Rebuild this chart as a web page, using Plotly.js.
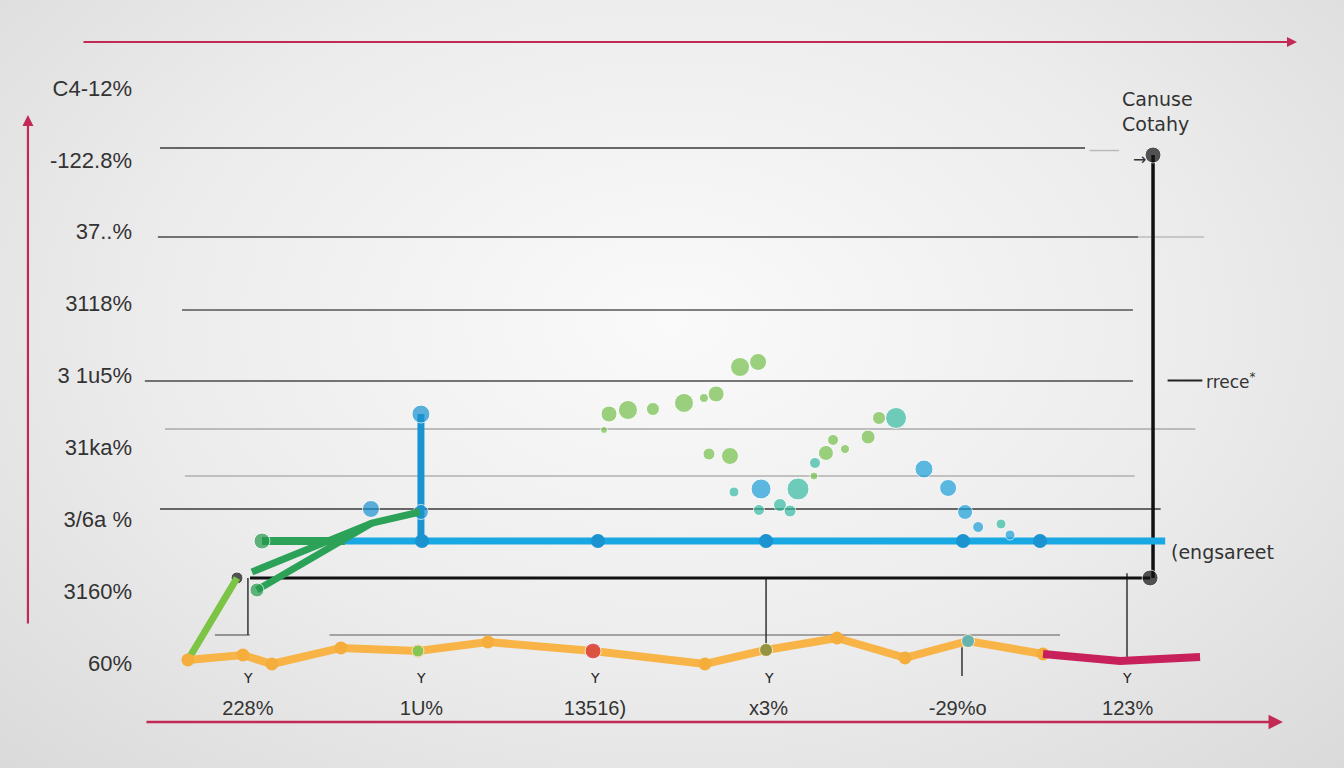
<!DOCTYPE html>
<html>
<head>
<meta charset="utf-8">
<script src="https://cdn.plot.ly/plotly-3.0.1.min.js"></script>
<style>
  html, body { margin: 0; padding: 0; }
  body {
    width: 1344px; height: 768px; overflow: hidden;
    background: radial-gradient(ellipse at 50% 42%, #fafafa 0%, #ececec 55%, #dadada 100%);
  }
  #plot { width: 1344px; height: 768px; }
</style>
</head>
<body>
<div id="plot"></div>
<script>
// tick labels
const yTickVals = [0, 1, 2, 3, 4, 5, 6, 7, 8];
const yTickText = ["60%", "3160%", "3/6a %", "31ka%", "3 1u5%", "3118%", "37..%", "-122.8%", "C4-12%"];
const xTickVals = [1, 2, 3, 4, 5.09, 6.07];
const xTickText = ["228%", "1U%", "13516)", "x3%", "-29%o", "123%"];

// orange series along the bottom, then the crimson tail
const orangeX = [0.654, 0.971, 1.138, 1.536, 1.980, 2.383, 2.989, 3.634, 3.986, 4.395, 4.787, 5.150, 5.582];
const orangeY = [0.042, 0.111, -0.014, 0.209, 0.167, 0.292, 0.167, -0.014, 0.181, 0.348, 0.070, 0.306, 0.125];
const crimsonX = [5.582, 6.026, 6.487];
const crimsonY = [0.125, 0.028, 0.083];
const accentX = [1.980, 2.989, 3.986, 5.150];
const accentY = [0.167, 0.167, 0.181, 0.306];

// light green rise
const limeX = [0.654, 0.937];
const limeY = [0.042, 1.183];

// dark green strands
const greenAX = [1.081, 1.559];
const greenAY = [1.697, 1.697];
const greenBX = [1.023, 1.715, 1.991];
const greenBY = [1.266, 1.948, 2.101];
const greenCX = [1.052, 1.715];
const greenCY = [1.016, 1.948];

// blue baseline and spike
const blueX = [1.559, 2.003, 3.017, 3.986, 5.121, 5.565, 6.286];
const blueY = [1.697, 1.697, 1.697, 1.697, 1.697, 1.697, 1.697];
const spikeX = [1.997, 1.997];
const spikeY = [1.697, 3.464];
const blueDotX = [1.997, 1.997, 1.709];
const blueDotY = [3.464, 2.101, 2.143];

// black frame line
const blackHX = [1.012, 6.199];
const blackHY = [1.183, 1.183];
const blackVX = [6.216, 6.216];
const blackVY = [1.183, 7.068];
const blackDotX = [6.216, 6.199, 0.937];
const blackDotY = [7.068, 1.183, 1.183];

// scattered bubbles
const bubbleX = [3.052, 3.081, 3.190, 3.334, 3.513, 3.628, 3.698, 3.836, 3.940, 3.657, 3.778,
                 4.262, 4.268, 4.331, 4.372, 4.441, 4.574, 4.637, 4.735,
                 3.801, 4.170, 3.945, 4.066, 4.124,
                 3.957, 4.896, 5.035, 5.133, 5.208, 5.340, 5.392];
const bubbleY = [3.242, 3.464, 3.520, 3.534, 3.618, 3.687, 3.743, 4.118, 4.188, 2.908, 2.880,
                 2.602, 2.783, 2.922, 3.103, 2.977, 3.144, 3.409, 3.409,
                 2.379, 2.421, 2.129, 2.198, 2.115,
                 2.421, 2.699, 2.435, 2.101, 1.892, 1.934, 1.781];
const bubbleSize = [7, 16, 19, 13, 19, 9, 16, 19, 17, 12, 17,
                    8, 11, 15, 11, 9, 14, 13, 21,
                    10, 22, 11, 13, 12,
                    20, 18, 17, 15, 11, 10, 10];
const bubbleKind = ["g","g","g","g","g","g","g","g","g","g","g",
                    "g","t","g","g","g","g","g","t",
                    "t","t","t","t","t",
                    "b","b","b","b","b","t","b"];

// thin guide lines
const guideY = [7.165, 5.927, 5.927, 4.911, 3.923, 3.256, 2.602, 2.143, 0.39, 0.39];
const guideX0 = [0.493, 0.481, 6.13, 0.62, 0.406, 0.522, 0.637, 0.493, 0.81, 1.47];
const guideX1 = [5.824, 6.13, 6.51, 6.10, 6.10, 6.46, 6.11, 6.26, 1.01, 5.68];
const guideTone = ["#3a3a3a", "#4a4a4a", "#bbbbbb", "#555555", "#4a4a4a", "#aaaaaa", "#b0b0b0", "#3a3a3a", "#777777", "#8a8a8a"];
const stemX = [1.0, 3.986, 6.066, 5.115];
const stemY0 = [0.39, 0.20, 0.05, -0.18];
const stemY1 = [1.183, 1.183, 1.25, 0.22];
const notchX = [1, 2, 3, 4, 6.066];

const kindColor = { g: "#74c04a", t: "#36bba2", b: "#1b9fd9" };

const line = (x, y, color, width) => ({
  x: x, y: y, mode: "lines", type: "scatter", hoverinfo: "skip",
  line: { color: color, width: width }
});
const dots = (x, y, color, size) => ({
  x: x, y: y, mode: "markers", type: "scatter", hoverinfo: "skip",
  marker: { color: color, size: size }
});

const traces = [
  line(blackHX, blackHY, "#111111", 3),
  line(blackVX, blackVY, "#111111", 3.5),
  dots(blackDotX, blackDotY, "#111111", [16, 16, 12]),
  line(blueX, blueY, "#19a8e2", 7),
  dots(blueX.slice(1, 6), blueY.slice(1, 6), "#1a93d0", 14),
  line(spikeX, spikeY, "#1a93d0", 7),
  dots(blueDotX, blueDotY, "#1a93d0", [18, 15, 17]),
  line(greenAX, greenAY, "#2ba257", 8),
  line(greenBX, greenBY, "#2ba257", 7),
  line(greenCX, greenCY, "#2ba257", 7),
  dots([greenAX[0], greenCX[0]], [greenAY[0], greenCY[0]], "#229a4c", [16, 14]),
  {
    x: bubbleX, y: bubbleY, mode: "markers", type: "scatter", hoverinfo: "skip",
    marker: { size: bubbleSize, color: bubbleKind.map(k => kindColor[k]) }
  },
  line(limeX, limeY, "#7cc445", 7),
  line(orangeX, orangeY, "#f8b447", 8),
  dots(orangeX, orangeY, "#f5ae3c", 13),
  line(crimsonX, crimsonY, "#c8205a", 8),
  dots(accentX, accentY, ["#5ccf5a", "#d42a44", "#6b8a3e", "#2cb6e0"], [12, 16, 13, 13])
];

const shapes = guideY.map((y, i) => ({
  type: "line", xref: "x", yref: "y", layer: "below",
  x0: guideX0[i], x1: guideX1[i], y0: y, y1: y,
  line: { color: guideTone[i], width: 1.5 }
})).concat(stemX.map((x, i) => ({
  type: "line", xref: "x", yref: "y", layer: "below",
  x0: x, x1: x, y0: stemY0[i], y1: stemY1[i],
  line: { color: "#333333", width: 1.5 }
}))).concat([
  { type: "line", xref: "x", yref: "y", x0: 6.30, x1: 6.50, y0: 3.93, y1: 3.93, line: { color: "#222", width: 2 } },
  { type: "line", xref: "x", yref: "y", x0: 5.85, x1: 6.02, y0: 7.13, y1: 7.13, line: { color: "#bbb", width: 1.5 } }
]);

const red = "#c22a55";
const annotations = [
  // red frame arrows
  { xref: "paper", yref: "paper", x: 0.9974, y: 1.0, ax: -1215, ay: 0, text: "", showarrow: true,
    arrowhead: 2, arrowsize: 1, arrowwidth: 2, arrowcolor: red },
  { xref: "paper", yref: "paper", x: -0.0966, y: 0.8926, ax: 0, ay: 510, text: "", showarrow: true,
    arrowhead: 2, arrowsize: 1, arrowwidth: 2.2, arrowcolor: red },
  { xref: "paper", yref: "paper", x: 0.9853, y: 0.0, ax: -1138, ay: 0, text: "", showarrow: true,
    arrowhead: 2, arrowsize: 1.2, arrowwidth: 2.4, arrowcolor: red },
  // side labels
  { xref: "x", yref: "y", x: 6.239, y: 7.67, text: "Canuse<br>Cotahy", showarrow: false,
    font: { family: "DejaVu Sans", size: 19, color: "#333" }, align: "left" },
  { xref: "x", yref: "y", x: 6.51, y: 3.92, xanchor: "left", text: "rrece<sup>*</sup>", showarrow: false,
    font: { family: "DejaVu Sans", size: 17, color: "#333" } },
  { xref: "x", yref: "y", x: 6.31, y: 1.55, xanchor: "left", text: "(engsareet", showarrow: false,
    font: { family: "DejaVu Sans", size: 19, color: "#333" } },
  { xref: "x", yref: "y", x: 6.14, y: 7.00, text: "→", showarrow: false,
    font: { family: "DejaVu Sans", size: 16, color: "#333" } }
].concat(notchX.map(x => ({
  xref: "x", yref: "y", x: x, y: -0.21, text: "Y", showarrow: false,
  font: { family: "DejaVu Sans", size: 14, color: "#222" }
})));

const layout = {
  width: 1344, height: 768,
  margin: { l: 140, r: 44, t: 42, b: 46 },
  paper_bgcolor: "rgba(0,0,0,0)",
  plot_bgcolor: "rgba(0,0,0,0)",
  showlegend: false,
  xaxis: {
    range: [0.378, 7.063],
    tickvals: xTickVals, ticktext: xTickText,
    ticklabelposition: "inside", ticks: "",
    showgrid: false, zeroline: false, showline: false,
    tickfont: { family: "Liberation Sans", size: 20, color: "#333" }
  },
  yaxis: {
    range: [-0.821, 8.64],
    tickvals: yTickVals, ticktext: yTickText,
    ticks: "", ticklabelstandoff: 7,
    showgrid: false, zeroline: false, showline: false,
    tickfont: { family: "Liberation Sans", size: 22, color: "#333" }
  },
  shapes: shapes,
  annotations: annotations
};

Plotly.newPlot("plot", traces, layout, { staticPlot: true });
</script>
</body>
</html>
